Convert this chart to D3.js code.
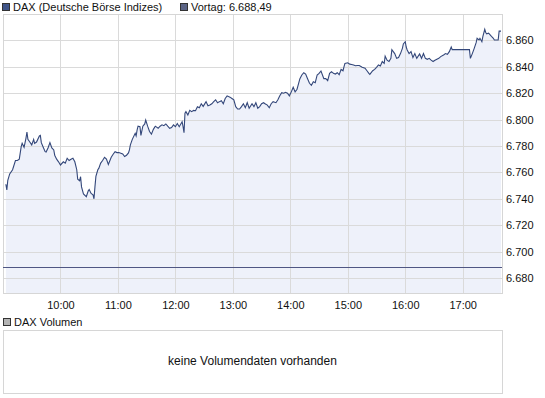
<!DOCTYPE html>
<html>
<head>
<meta charset="utf-8">
<script src="https://d3js.org/d3.v7.min.js"></script>
<title>DAX Intraday</title>
<style>
    body { margin: 0; background: #fff; }
    svg { display: block; font-family: "Liberation Sans", Arial, sans-serif; font-size: 11px; }
</style>
</head>
<body>
<svg width="545" height="398"></svg>
<script>
// values
var times = ["09:03","09:04","09:05","09:07","09:10","09:13","09:15","09:17","09:19","09:20",
    "09:22","09:24","09:25","09:26","09:28","09:30","09:32","09:33","09:35","09:38",
    "09:39","09:40","09:42","09:44","09:45","09:47","09:49","09:51","09:53","09:54",
    "09:56","09:58","10:00","10:03","10:05","10:07","10:09","10:11","10:13","10:15",
    "10:17","10:18","10:20","10:21","10:22","10:24","10:27","10:29","10:30","10:32",
    "10:34","10:35","10:36","10:37","10:39","10:40","10:42","10:44","10:46","10:48",
    "10:50","10:53","10:55","10:57","10:59","11:01","11:03","11:05","11:07","11:09",
    "11:11","11:12","11:13","11:15","11:18","11:19","11:20","11:21","11:23","11:24",
    "11:26","11:28","11:29","11:31","11:33","11:35","11:37","11:39","11:42","11:44",
    "11:46","11:48","11:50","11:52","11:54","11:56","11:58","12:00","12:02","12:04",
    "12:07","12:08","12:09","12:10","12:11","12:13","12:15","12:17","12:19","12:21",
    "12:23","12:25","12:27","12:29","12:32","12:34","12:36","12:38","12:40","12:42",
    "12:44","12:46","12:48","12:50","12:52","12:54","12:57","12:59","13:01","13:03",
    "13:05","13:07","13:09","13:11","13:13","13:15","13:17","13:20","13:22","13:24",
    "13:26","13:28","13:30","13:32","13:34","13:36","13:38","13:40","13:42","13:45",
    "13:47","13:49","13:51","13:53","13:55","13:57","13:59","14:01","14:03","14:05",
    "14:07","14:10","14:12","14:14","14:16","14:18","14:20","14:22","14:24","14:26",
    "14:28","14:30","14:32","14:35","14:37","14:39","14:41","14:43","14:45","14:47",
    "14:49","14:51","14:53","14:55","14:56","14:57","15:00","15:02","15:04","15:06",
    "15:08","15:10","15:12","15:15","15:18","15:20","15:22","15:23","15:26","15:28",
    "15:30","15:32","15:34","15:36","15:38","15:39","15:41","15:43","15:45","15:46",
    "15:49","15:51","15:53","15:55","15:57","15:58","16:00","16:01","16:02","16:04",
    "16:06","16:08","16:10","16:12","16:15","16:17","16:19","16:21","16:23","16:25",
    "16:27","16:29","16:31","16:33","16:35","16:37","16:40","16:42","16:44","16:46",
    "16:48","16:49","17:07","17:08","17:10","17:12","17:14","17:15","17:17","17:18",
    "17:20","17:21","17:23","17:24","17:25","17:27","17:30","17:32","17:33","17:37",
    "17:38","17:40"];
var prices = [6751,6746.7,6754,6758.8,6762,6769,6769,6770,6779.5,6782,
    6779,6786,6790.6,6785,6783,6780.8,6785,6782,6783,6787.6,
    6788,6782.5,6779,6775.7,6775.4,6778.5,6782.5,6778.5,6777,6773,
    6770,6768,6765.6,6768,6767,6770.7,6769,6770,6770.7,6768,
    6762,6754.8,6753.7,6756.7,6749,6743.6,6741.6,6746,6747,6744,
    6743,6740,6749,6757,6762,6763,6767,6769,6771.4,6770,
    6766,6771.4,6773.7,6775.7,6775,6775,6774.5,6774,6772,6773,
    6774.7,6777,6780.8,6785,6789.6,6787.6,6792,6795,6794.6,6788,
    6795,6796.7,6799.7,6795,6791,6789,6792.6,6795,6793.4,6795,
    6796,6795.4,6796.7,6795,6793.4,6794,6796,6794.6,6797,6794.6,
    6798.4,6794.6,6790,6804.8,6806,6803.5,6807,6806,6807,6806.7,
    6809.8,6809,6812,6810,6813.6,6810.5,6811,6812,6813.6,6815,
    6812.8,6813.6,6814.3,6812,6816,6818,6817,6816,6815,6809.8,
    6808,6808,6809.8,6812,6809,6812.8,6808.6,6812,6809.8,6812.8,
    6808.6,6809.8,6812,6812.8,6811.8,6811,6809,6812,6813.6,6812.8,
    6815,6818,6820.4,6820,6820.7,6820,6818,6821,6824.5,6821,
    6823,6831,6833.8,6835.5,6834.5,6831,6827.5,6826,6828.7,6828,
    6833.8,6835,6836.8,6831,6831,6829.5,6835,6836.3,6835,6834.5,
    6835.5,6834,6838,6837,6840,6842.6,6843,6842,6841.8,6841.4,
    6840.8,6841,6841,6839.6,6838.9,6837,6835,6834.3,6837,6838,
    6839.6,6841.4,6840.6,6844,6842.6,6848,6845,6844,6846.4,6853,
    6850,6846.4,6847,6850,6854,6857.3,6859,6855,6852.7,6850,
    6851.5,6847,6850,6846.4,6849.7,6846.4,6850,6846.4,6845.7,6846.4,
    6845,6844,6845,6845.7,6846.4,6847.7,6849,6850,6849.5,6851.5,
    6855,6853,6853,6846.4,6850,6854,6858.3,6861.6,6860.3,6861.6,
    6859,6862.8,6868.4,6866,6865,6865.5,6863,6861.6,6860.3,6860.3,
    6867,6867];
var prevClose = 6688.49;
var yTicks = [6680,6700,6720,6740,6760,6780,6800,6820,6840,6860];
var hourTicks = ["10:00","11:00","12:00","13:00","14:00","15:00","16:00","17:00"];
var seriesLabel = "DAX (Deutsche Börse Indizes)";
var prevLabel = "Vortag: 6.688,49";
var volumeLabel = "DAX Volumen";
var volumeMessage = "keine Volumendaten vorhanden";

var parseTime = d3.timeParse("%H:%M");
var de = d3.formatLocale({decimal: ",", thousands: ".", grouping: [3], currency: ["", " €"]});

var svg = d3.select("svg");
var plotLeft = 3, plotRight = 502, plotTop = 14, plotBottom = 293;

var x = d3.scaleTime()
    .domain([parseTime("09:00"), parseTime("17:41")])
    .range([plotLeft, plotRight]);
var y = d3.scaleLinear()
    .domain([6668.6, 6880])
    .range([plotBottom, plotTop]);

var data = times.map(function(t, i){ return {t: parseTime(t), v: prices[i]}; });

// price area
svg.append("path")
    .datum(data)
    .attr("fill", "#eef1fa")
    .attr("d", d3.area()
        .x(function(d){ return x(d.t); })
        .y0(plotBottom)
        .y1(function(d){ return y(d.v); }));

// grid
var grid = svg.append("g").attr("stroke", "#dadada").attr("shape-rendering", "crispEdges");
grid.selectAll("line.h")
    .data(yTicks)
    .enter().append("line")
        .attr("class", "h")
        .attr("x1", plotLeft).attr("x2", plotRight)
        .attr("y1", function(d){ return Math.round(y(d)) + 0.5; })
        .attr("y2", function(d){ return Math.round(y(d)) + 0.5; });
grid.selectAll("line.v")
    .data(hourTicks)
    .enter().append("line")
        .attr("class", "v")
        .attr("y1", plotTop).attr("y2", plotBottom)
        .attr("x1", function(d){ return Math.round(x(parseTime(d))) + 0.5; })
        .attr("x2", function(d){ return Math.round(x(parseTime(d))) + 0.5; });

svg.append("rect")
    .attr("x", plotLeft + 0.5).attr("y", plotTop + 0.5)
    .attr("width", plotRight - plotLeft).attr("height", plotBottom - plotTop)
    .attr("fill", "none").attr("stroke", "#d6d6d6")
    .attr("shape-rendering", "crispEdges");

// previous close
svg.append("line")
    .attr("x1", plotLeft).attr("x2", plotRight)
    .attr("y1", Math.round(y(prevClose)) + 0.5)
    .attr("y2", Math.round(y(prevClose)) + 0.5)
    .attr("stroke", "#4f5683")
    .attr("shape-rendering", "crispEdges");

// price line
svg.append("path")
    .datum(data)
    .attr("fill", "none")
    .attr("stroke", "#33477a")
    .attr("stroke-width", 1.1)
    .attr("d", d3.line()
        .x(function(d){ return x(d.t); })
        .y(function(d){ return y(d.v); }));

// axes
var yAxis = svg.append("g")
    .attr("transform", "translate(" + plotRight + ",0)")
    .call(d3.axisRight(y).tickValues(yTicks).tickSize(0).tickPadding(4)
        .tickFormat(de.format(",.0f")));
yAxis.select(".domain").remove();

var xAxis = svg.append("g")
    .attr("transform", "translate(0," + plotBottom + ")")
    .call(d3.axisBottom(x).tickValues(hourTicks.map(parseTime)).tickSize(0).tickPadding(8)
        .tickFormat(d3.timeFormat("%H:%M")));
xAxis.select(".domain").remove();

svg.selectAll(".tick text").attr("fill", "#111").style("font-size", "11px")
    .style("font-family", "'Liberation Sans', Arial, sans-serif");

// legend
function legendItem(px, py, color, label){
    svg.append("rect")
        .attr("x", px + 0.5).attr("y", py + 0.5)
        .attr("width", 7).attr("height", 7)
        .attr("fill", color).attr("stroke", "#333")
        .attr("shape-rendering", "crispEdges");
    svg.append("text")
        .attr("x", px + 11).attr("y", py + 7.5)
        .attr("fill", "#111")
        .text(label);
}
legendItem(2, 3, "#3f5488", seriesLabel);
legendItem(180, 3, "#5b6485", prevLabel);
legendItem(3, 318, "#b4b4b4", volumeLabel);

// volume panel
svg.append("rect")
    .attr("x", plotLeft + 0.5).attr("y", 330.5)
    .attr("width", plotRight - plotLeft).attr("height", 63)
    .attr("fill", "#fff").attr("stroke", "#d6d6d6")
    .attr("shape-rendering", "crispEdges");
svg.append("text")
    .attr("x", (plotLeft + plotRight) / 2).attr("y", 365)
    .attr("text-anchor", "middle")
    .attr("fill", "#111")
    .style("font-size", "12px")
    .text(volumeMessage);
</script>
</body>
</html>
